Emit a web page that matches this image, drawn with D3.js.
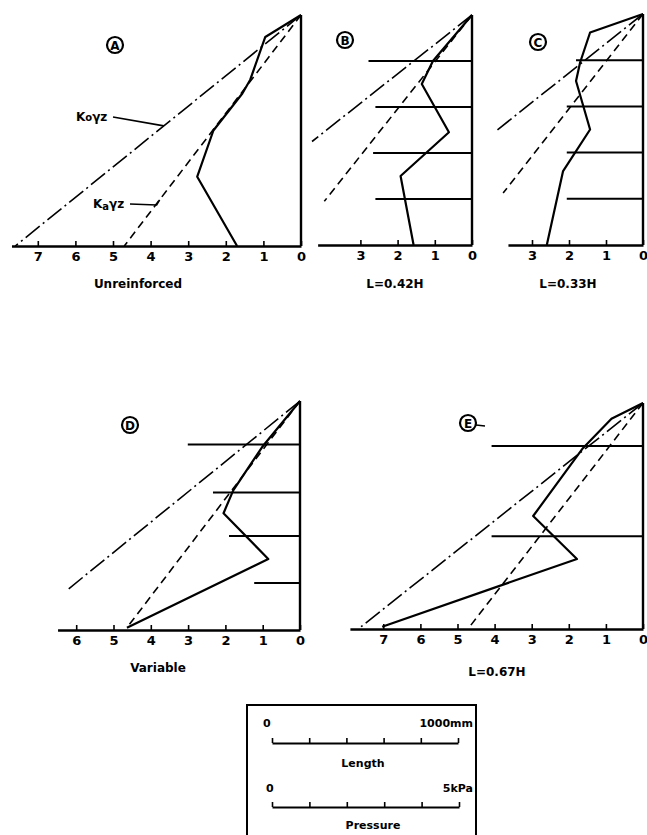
<!DOCTYPE html>
<html>
<head>
<meta charset="utf-8">
<script src="https://cdn.jsdelivr.net/npm/d3@7"></script>
<style>
  body { margin: 0; background: #fff; }
  text { font-family: "DejaVu Sans", sans-serif; font-weight: bold; fill: #000; }
</style>
</head>
<body>
<script>
// pressure values in kPa, depth as fraction of wall height z/H
var pressureTicksA = [0, 1, 2, 3, 4, 5, 6, 7],
	pressureTicksB = [0, 1, 2, 3],
	pressureTicksC = [0, 1, 2, 3],
	pressureTicksD = [0, 1, 2, 3, 4, 5, 6],
	pressureTicksE = [0, 1, 2, 3, 4, 5, 6, 7];

// measured lateral pressure  [p, z/H]
var measuredA = [[0, 0], [0.95, 0.095], [1.35, 0.28], [1.56, 0.34], [2.33, 0.5], [2.76, 0.7], [1.7, 1]],
	measuredB = [[0, 0], [1.05, 0.2], [1.35, 0.3], [0.62, 0.51], [1.92, 0.7], [1.57, 1]],
	measuredC = [[0, 0], [1.43, 0.08], [1.7, 0.21], [1.81, 0.29], [1.43, 0.5], [2.16, 0.68], [2.6, 1]],
	measuredD = [[0, 0], [1.01, 0.2], [1.79, 0.39], [2.05, 0.49], [0.85, 0.69], [4.64, 0.99]],
	measuredE = [[0, 0], [0.85, 0.07], [1.62, 0.2], [2.96, 0.5], [1.78, 0.69], [7.03, 0.99]];

// at-rest K0.y.z line (dash-dot)
var atRestA = [[0, 0], [7.6, 1]],
	atRestB = [[0, 0], [4.3, 0.55]],
	atRestC = [[0, 0], [4.0, 0.51]],
	atRestD = [[0, 0], [6.2, 0.82]],
	atRestE = [[0, 0], [7.6, 0.99]];

// active Ka.y.z line (dashed)
var activeA = [[0, 0], [4.7, 1]],
	activeB = [[0, 0], [3.97, 0.81]],
	activeC = [[0, 0], [3.78, 0.775]],
	activeD = [[0, 0], [4.64, 0.99]],
	activeE = [[0, 0], [4.72, 1]];

// reinforcement layers: depth z/H and length L/H
var reinfDepthB = [0.2, 0.4, 0.6, 0.8], reinfLenB = [0.45, 0.42, 0.43, 0.42],
	reinfDepthC = [0.2, 0.4, 0.6, 0.8], reinfLenC = [0.29, 0.33, 0.33, 0.33],
	reinfDepthD = [0.19, 0.4, 0.59, 0.795], reinfLenD = [0.49, 0.38, 0.31, 0.2],
	reinfDepthE = [0.19, 0.59], reinfLenE = [0.67, 0.67];

var captions = ["Unreinforced", "L=0.42H", "L=0.33H", "Variable", "L=0.67H"],
	letters = ["A", "B", "C", "D", "E"];

// scale box
var lengthBarTicks = [0, 200, 400, 600, 800, 1000],
	pressureBarTicks = [0, 1, 2, 3, 4, 5];

var svg = d3.select("body").append("svg")
	.attr("width", 647)
	.attr("height", 835);

// frame of each panel on the page
var frames = [
	{x0: 301, top: 15, base: 246, k: 37.6, pmax: 7.7, cx: 138, cy: 288, lx: 115, ly: 45},
	{x0: 472, top: 15, base: 245, k: 37.2, pmax: 4.15, cx: 395, cy: 288, lx: 345, ly: 40},
	{x0: 643, top: 14, base: 245, k: 37.0, pmax: 3.65, cx: 568, cy: 288, lx: 538, ly: 42},
	{x0: 300, top: 401, base: 630, k: 37.3, pmax: 6.5, cx: 158, cy: 672, lx: 130, ly: 425},
	{x0: 643, top: 403, base: 629, k: 37.1, pmax: 7.9, cx: 497, cy: 676, lx: 468, ly: 423}
];

var panels = [
	{ticks: pressureTicksA, measured: measuredA, atRest: atRestA, active: activeA, depth: [], len: []},
	{ticks: pressureTicksB, measured: measuredB, atRest: atRestB, active: activeB, depth: reinfDepthB, len: reinfLenB},
	{ticks: pressureTicksC, measured: measuredC, atRest: atRestC, active: activeC, depth: reinfDepthC, len: reinfLenC},
	{ticks: pressureTicksD, measured: measuredD, atRest: atRestD, active: activeD, depth: reinfDepthD, len: reinfLenD},
	{ticks: pressureTicksE, measured: measuredE, atRest: atRestE, active: activeE, depth: reinfDepthE, len: reinfLenE}
];

panels.forEach(function(p, i) {
	var f = frames[i];
	var x = d3.scaleLinear().domain([0, f.pmax]).range([f.x0, f.x0 - f.pmax * f.k]),
		y = d3.scaleLinear().domain([0, 1]).range([f.top, f.base]),
		// reinforcement length drawn to the same scale as the height
		len = d3.scaleLinear().domain([0, 1]).range([0, f.base - f.top]);

	var g = svg.append("g");

	var line = d3.line()
		.x(function(d) { return x(d[0]); })
		.y(function(d) { return y(d[1]); });

	// pressure axis, ticks pointing up
	var axis = g.append("g")
		.attr("transform", "translate(0," + f.base + ")")
		.call(d3.axisBottom(x)
			.tickValues(p.ticks)
			.tickSizeInner(-5)
			.tickSizeOuter(0)
			.tickPadding(6)
			.tickFormat(d3.format("d")));
	axis.select(".domain").attr("stroke-width", 2.4);
	axis.selectAll(".tick line").attr("stroke-width", 1.6);
	axis.selectAll(".tick text")
		.attr("font-size", 13)
		.attr("font-family", "DejaVu Sans")
		.attr("font-weight", "bold");

	// wall face
	g.append("line")
		.attr("x1", x(0)).attr("x2", x(0))
		.attr("y1", y(0)).attr("y2", y(1))
		.attr("stroke", "#000")
		.attr("stroke-width", 2.4);

	// reinforcement
	g.selectAll(".reinf")
		.data(p.depth)
		.enter().append("line")
		.attr("class", "reinf")
		.attr("x1", x(0))
		.attr("x2", function(d, j) { return x(0) - len(p.len[j]); })
		.attr("y1", function(d) { return y(d); })
		.attr("y2", function(d) { return y(d); })
		.attr("stroke", "#000")
		.attr("stroke-width", 2);

	g.append("path")
		.attr("d", line(p.atRest))
		.attr("fill", "none")
		.attr("stroke", "#000")
		.attr("stroke-width", 1.6)
		.attr("stroke-dasharray", "18,4,2,4");

	g.append("path")
		.attr("d", line(p.active))
		.attr("fill", "none")
		.attr("stroke", "#000")
		.attr("stroke-width", 1.6)
		.attr("stroke-dasharray", "8,5");

	g.append("path")
		.attr("d", line(p.measured))
		.attr("fill", "none")
		.attr("stroke", "#000")
		.attr("stroke-width", 2.2)
		.attr("stroke-linejoin", "round");

	// circled panel letter
	g.append("circle")
		.attr("cx", f.lx).attr("cy", f.ly).attr("r", 8)
		.attr("fill", "none")
		.attr("stroke", "#000")
		.attr("stroke-width", 2.2);
	g.append("text")
		.attr("x", f.lx).attr("y", f.ly + 4.5)
		.attr("text-anchor", "middle")
		.attr("font-size", 12)
		.text(letters[i]);

	g.append("text")
		.attr("x", f.cx).attr("y", f.cy)
		.attr("text-anchor", "middle")
		.attr("font-size", 12)
		.text(captions[i]);

	// labels for the two theory lines in panel A
	if (i === 0) {
		var z0 = 0.48, za = 0.8;
		var pk = p.atRest[1][0] * z0 / p.atRest[1][1],
			pa = p.active[1][0] * za / p.active[1][1];

		var t0 = g.append("text").attr("x", 76).attr("y", 121).attr("font-size", 12);
		t0.append("tspan").text("K");
		t0.append("tspan").attr("font-size", 10).text("o");
		t0.append("tspan").text("γz");
		g.append("path")
			.attr("d", "M113," + 117 + "L" + x(pk) + "," + y(z0))
			.attr("fill", "none").attr("stroke", "#000").attr("stroke-width", 1.6);

		var ta = g.append("text").attr("x", 93).attr("y", 208).attr("font-size", 12);
		ta.append("tspan").text("K");
		ta.append("tspan").attr("font-size", 10).attr("dy", 2).text("a");
		ta.append("tspan").attr("dy", -2).text("γz");
		g.append("path")
			.attr("d", "M130,204L" + (x(pa) - 3) + ",205L" + x(pa) + "," + y(za))
			.attr("fill", "none").attr("stroke", "#000").attr("stroke-width", 1.6);
	}

	// small tail on the E marker
	if (i === 4) {
		g.append("line")
			.attr("x1", f.lx + 8).attr("x2", f.lx + 17)
			.attr("y1", f.ly + 2).attr("y2", f.ly + 3)
			.attr("stroke", "#000").attr("stroke-width", 1.4);
	}
});

// scale box
var box = svg.append("g");
box.append("rect")
	.attr("x", 247).attr("y", 705)
	.attr("width", 229).attr("height", 150)
	.attr("fill", "none")
	.attr("stroke", "#000")
	.attr("stroke-width", 2);

var lengthScale = d3.scaleLinear().domain([0, 1000]).range([272, 458]),
	pressureScale = d3.scaleLinear().domain([0, 5]).range([272, 459]);

function scaleBar(scale, ticks, yPos) {
	var a = box.append("g")
		.attr("transform", "translate(0," + yPos + ")")
		.call(d3.axisBottom(scale)
			.tickValues(ticks)
			.tickSizeInner(-5)
			.tickSizeOuter(0)
			.tickFormat(""));
	a.select(".domain").attr("stroke-width", 1.8);
	a.selectAll(".tick line").attr("stroke-width", 1.6);
}

scaleBar(lengthScale, lengthBarTicks, 743);
scaleBar(pressureScale, pressureBarTicks, 807);

box.append("text").attr("x", lengthScale(0) - 9).attr("y", 727).attr("font-size", 11).text("0");
box.append("text").attr("x", 473).attr("y", 727).attr("text-anchor", "end").attr("font-size", 11).text("1000mm");
box.append("text").attr("x", 363).attr("y", 767).attr("text-anchor", "middle").attr("font-size", 11).text("Length");
box.append("text").attr("x", pressureScale(0) - 6).attr("y", 792).attr("font-size", 11).text("0");
box.append("text").attr("x", 473).attr("y", 792).attr("text-anchor", "end").attr("font-size", 11).text("5kPa");
box.append("text").attr("x", 373).attr("y", 829).attr("text-anchor", "middle").attr("font-size", 11).text("Pressure");
</script>
</body>
</html>
